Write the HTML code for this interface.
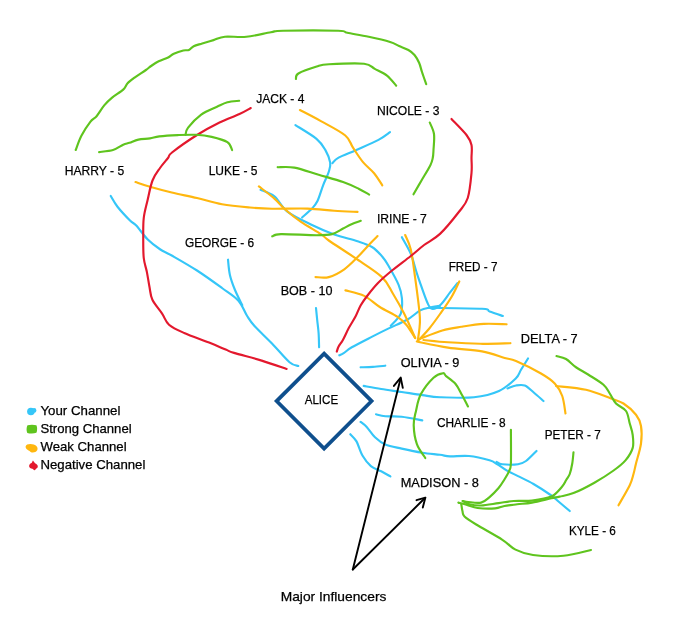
<!DOCTYPE html><html><head><meta charset="utf-8"><style>html,body{margin:0;padding:0;background:#fff;width:687px;height:632px;overflow:hidden}svg{display:block;will-change:transform}</style></head><body>
<svg width="687" height="632" viewBox="0 0 687 632">
<g fill="none" stroke-linecap="round" stroke-linejoin="round">
<path d="M110.75 196.00 C111.88 197.79 114.29 202.67 117.50 206.75 C120.71 210.83 126.88 217.38 130.00 220.50 C133.12 223.62 133.33 222.38 136.25 225.50 C139.17 228.62 143.54 235.29 147.50 239.25 C151.46 243.21 155.96 246.54 160.00 249.25 C164.04 251.96 165.58 251.96 171.75 255.50 C177.92 259.04 188.62 265.08 197.00 270.50 C205.38 275.92 215.12 283.00 222.00 288.00 C228.88 293.00 234.08 295.88 238.25 300.50 C242.42 305.12 244.29 311.50 247.00 315.75 C249.71 320.00 250.33 321.38 254.50 326.00 C258.67 330.62 266.17 337.46 272.00 343.50 C277.83 349.54 285.12 358.50 289.50 362.25 C293.88 366.00 296.79 365.38 298.25 366.00" stroke="#35c6f8" stroke-width="2.15"/>
<path d="M228.00 259.70 C228.32 262.23 228.73 269.85 229.90 274.90 C231.07 279.95 232.93 284.93 235.00 290.00 C237.07 295.07 241.08 302.75 242.30 305.30" stroke="#35c6f8" stroke-width="2.15"/>
<path d="M316.00 308.00 C316.20 310.00 316.77 315.83 317.20 320.00 C317.63 324.17 318.28 328.45 318.60 333.00 C318.92 337.55 319.02 344.92 319.10 347.30" stroke="#35c6f8" stroke-width="2.15"/>
<path d="M295.40 125.10 C298.92 127.38 311.52 134.67 316.50 138.80 C321.48 142.93 323.02 145.92 325.30 149.90 C327.58 153.88 329.63 159.02 330.20 162.70 C330.77 166.38 329.88 168.23 328.70 172.00 C327.52 175.77 324.95 180.50 323.10 185.30 C321.25 190.10 319.45 196.92 317.60 200.80 C315.75 204.68 314.58 205.82 312.00 208.60 C309.42 211.38 303.75 216.02 302.10 217.50" stroke="#35c6f8" stroke-width="2.15"/>
<path d="M390.00 132.20 C388.08 133.48 384.10 136.95 378.50 139.90 C372.90 142.85 363.05 146.95 356.40 149.90 C349.75 152.85 342.60 155.38 338.60 157.60 C334.60 159.82 333.43 162.27 332.40 163.20" stroke="#35c6f8" stroke-width="2.15"/>
<path d="M260.60 189.80 C262.90 190.90 269.88 192.72 274.40 196.40 C278.92 200.08 281.43 207.13 287.70 211.90 C293.97 216.67 304.25 221.23 312.00 225.00 C319.75 228.77 326.62 231.80 334.20 234.50 C341.78 237.20 351.20 239.12 357.50 241.20 C363.80 243.28 367.88 244.45 372.00 247.00 C376.12 249.55 379.43 253.33 382.20 256.50 C384.97 259.67 385.87 261.28 388.60 266.00 C391.33 270.72 396.38 279.45 398.60 284.80 C400.82 290.15 401.53 293.30 401.90 298.10 C402.27 302.90 402.65 308.98 400.80 313.60 C398.95 318.22 392.47 323.77 390.80 325.80" stroke="#35c6f8" stroke-width="2.15"/>
<path d="M401.90 237.20 C403.38 239.97 408.40 248.08 410.80 253.80 C413.20 259.52 414.83 266.90 416.30 271.50 C417.77 276.10 417.78 276.28 419.60 281.40 C421.42 286.52 425.15 297.63 427.20 302.20 C429.25 306.77 429.70 308.33 431.90 308.80 C434.10 309.27 437.40 307.68 440.40 305.00 C443.40 302.32 447.07 296.33 449.90 292.70 C452.73 289.07 456.15 284.78 457.40 283.20" stroke="#35c6f8" stroke-width="2.15"/>
<path d="M429.10 307.80 C437.92 307.97 471.92 308.17 482.00 308.80 C492.08 309.43 486.12 310.40 489.60 311.60 C493.08 312.80 500.68 315.27 502.90 316.00" stroke="#35c6f8" stroke-width="2.15"/>
<path d="M339.30 355.30 C340.03 354.93 341.62 354.43 343.70 353.10 C345.78 351.77 347.05 350.05 351.80 347.30 C356.55 344.55 366.13 339.72 372.20 336.60 C378.27 333.48 382.38 331.40 388.20 328.60 C394.02 325.80 401.77 322.83 407.10 319.80 C412.43 316.77 416.38 312.45 420.20 310.40 C424.02 308.35 426.70 308.25 430.00 307.50 C433.30 306.75 438.33 306.17 440.00 305.90" stroke="#35c6f8" stroke-width="2.15"/>
<path d="M360.60 367.30 C362.65 367.23 368.78 367.17 372.90 366.90 C377.02 366.63 383.23 365.90 385.30 365.70" stroke="#35c6f8" stroke-width="2.15"/>
<path d="M363.70 385.90 C366.62 386.42 374.87 387.98 381.20 389.00 C387.53 390.02 394.85 390.98 401.70 392.00 C408.55 393.02 415.92 394.23 422.30 395.10 C428.68 395.97 431.38 396.84 440.00 397.20 C448.62 397.56 464.17 398.28 474.00 397.25 C483.83 396.22 492.04 394.12 499.00 391.00 C505.96 387.88 512.08 382.04 515.75 378.50 C519.42 374.96 518.96 373.08 521.00 369.75 C523.04 366.42 526.83 360.38 528.00 358.50" stroke="#35c6f8" stroke-width="2.15"/>
<path d="M376.00 414.30 C377.55 414.63 381.02 415.90 385.30 416.30 C389.58 416.70 395.53 416.02 401.70 416.70 C407.87 417.38 418.87 419.78 422.30 420.40" stroke="#35c6f8" stroke-width="2.15"/>
<path d="M360.60 421.90 C361.62 422.75 364.30 424.43 366.70 427.00 C369.10 429.57 371.90 434.38 375.00 437.30 C378.10 440.22 380.85 442.62 385.30 444.50 C389.75 446.38 395.53 447.23 401.70 448.60 C407.87 449.97 415.92 451.67 422.30 452.70 C428.68 453.73 435.38 454.18 440.00 454.80 C444.62 455.42 445.17 456.20 450.00 456.40 C454.83 456.60 462.42 455.35 469.00 456.00 C475.58 456.65 484.77 458.92 489.50 460.30 C494.23 461.68 494.48 462.58 497.40 464.30 C500.32 466.02 503.57 468.63 507.00 470.60 C510.43 472.57 513.58 473.87 518.00 476.10 C522.42 478.33 528.00 480.81 533.50 484.00 C539.00 487.19 546.83 492.33 551.00 495.25 C555.17 498.17 555.38 498.88 558.50 501.50 C561.62 504.12 567.88 509.42 569.75 511.00" stroke="#35c6f8" stroke-width="2.15"/>
<path d="M350.30 434.20 C351.33 435.40 354.45 437.80 356.50 441.40 C358.55 445.00 360.20 451.68 362.60 455.80 C365.00 459.92 367.80 463.52 370.90 466.10 C374.00 468.68 377.95 469.58 381.20 471.30 C384.45 473.02 388.87 475.55 390.40 476.40" stroke="#35c6f8" stroke-width="2.15"/>
<path d="M496.60 461.90 C497.53 462.30 498.63 463.90 502.20 464.30 C505.77 464.70 514.03 464.85 518.00 464.30 C521.97 463.75 522.92 463.22 526.00 461.00 C529.08 458.78 534.75 452.67 536.50 451.00" stroke="#35c6f8" stroke-width="2.15"/>
<path d="M507.50 388.50 C508.92 388.00 513.12 386.00 516.00 385.50 C518.88 385.00 521.83 384.38 524.75 385.50 C527.67 386.62 530.38 389.67 533.50 392.25 C536.62 394.83 541.83 399.54 543.50 401.00" stroke="#35c6f8" stroke-width="2.15"/>
<path d="M135.50 182.00 C137.92 182.79 143.96 185.00 150.00 186.75 C156.04 188.50 163.92 190.62 171.75 192.50 C179.58 194.38 188.62 196.04 197.00 198.00 C205.38 199.96 213.17 202.67 222.00 204.25 C230.83 205.83 241.67 206.75 250.00 207.50 C258.33 208.25 262.40 208.57 272.00 208.75 C281.60 208.93 297.23 208.26 307.60 208.60 C317.97 208.94 325.88 210.25 334.20 210.80 C342.52 211.35 353.62 211.72 357.50 211.90" stroke="#ffb70f" stroke-width="2.15"/>
<path d="M299.90 110.00 C303.40 111.85 313.33 116.85 320.90 121.10 C328.47 125.35 339.95 131.07 345.30 135.50 C350.65 139.93 350.05 143.27 353.00 147.70 C355.95 152.13 359.48 157.85 363.00 162.10 C366.52 166.35 370.88 169.33 374.10 173.20 C377.32 177.07 380.93 183.28 382.30 185.30" stroke="#ffb70f" stroke-width="2.15"/>
<path d="M258.90 186.40 C261.48 188.43 269.97 194.72 274.40 198.60 C278.83 202.48 281.07 205.82 285.50 209.70 C289.93 213.58 295.10 217.83 301.00 221.90 C306.90 225.97 316.27 231.00 320.90 234.10 C325.53 237.20 323.05 236.48 328.80 240.50 C334.55 244.52 346.53 252.10 355.40 258.20 C364.27 264.30 375.73 271.18 382.00 277.10 C388.27 283.02 389.32 287.62 393.00 293.70 C396.68 299.78 400.40 306.22 404.10 313.60 C407.80 320.98 413.35 333.93 415.20 338.00" stroke="#ffb70f" stroke-width="2.15"/>
<path d="M315.50 277.10 C317.72 277.10 324.00 278.40 328.80 277.10 C333.60 275.80 339.50 272.63 344.30 269.30 C349.10 265.97 353.17 261.53 357.60 257.10 C362.03 252.67 367.58 246.20 370.90 242.70 C374.22 239.20 376.40 237.20 377.50 236.10" stroke="#ffb70f" stroke-width="2.15"/>
<path d="M345.40 290.40 C348.53 291.32 358.47 293.13 364.20 295.90 C369.93 298.67 374.25 303.50 379.80 307.00 C385.35 310.50 393.08 313.95 397.50 316.90 C401.92 319.85 403.35 321.18 406.30 324.70 C409.25 328.22 413.72 335.78 415.20 338.00" stroke="#ffb70f" stroke-width="2.15"/>
<path d="M405.20 235.00 C406.13 237.40 409.13 242.20 410.80 249.40 C412.47 256.60 413.73 267.50 415.20 278.20 C416.67 288.90 418.87 305.50 419.60 313.60 C420.33 321.70 419.92 322.23 419.60 326.80 C419.28 331.37 418.02 338.63 417.70 341.00" stroke="#ffb70f" stroke-width="2.15"/>
<path d="M459.30 281.40 C458.05 283.92 454.95 291.15 451.80 296.50 C448.65 301.85 444.18 308.13 440.40 313.50 C436.62 318.87 432.72 324.28 429.10 328.70 C425.48 333.12 420.43 338.12 418.70 340.00" stroke="#ffb70f" stroke-width="2.15"/>
<path d="M419.60 339.00 C423.38 337.58 435.37 332.53 442.30 330.50 C449.23 328.47 454.27 327.90 461.20 326.80 C468.13 325.70 476.33 324.32 483.90 323.90 C491.47 323.48 502.82 324.23 506.60 324.30" stroke="#ffb70f" stroke-width="2.15"/>
<path d="M423.40 340.00 C427.50 340.38 438.55 341.67 448.00 342.30 C457.45 342.93 469.70 343.65 480.10 343.80 C490.50 343.95 505.35 343.30 510.40 343.20" stroke="#ffb70f" stroke-width="2.15"/>
<path d="M416.80 341.50 C422.00 342.52 437.13 345.95 448.00 347.60 C458.87 349.25 472.55 349.67 482.00 351.40 C491.45 353.13 499.03 356.40 504.70 358.00 C510.37 359.60 509.95 358.42 516.00 361.00 C522.05 363.58 534.54 369.75 541.00 373.50 C547.46 377.25 551.21 379.75 554.75 383.50 C558.29 387.25 560.46 391.00 562.25 396.00 C564.04 401.00 564.96 410.58 565.50 413.50" stroke="#ffb70f" stroke-width="2.15"/>
<path d="M556.00 386.00 C561.00 386.62 576.83 387.67 586.00 389.75 C595.17 391.83 604.75 396.21 611.00 398.50 C617.25 400.79 619.33 400.79 623.50 403.50 C627.67 406.21 633.08 411.00 636.00 414.75 C638.92 418.50 640.17 421.21 641.00 426.00 C641.83 430.79 641.83 437.25 641.00 443.50 C640.17 449.75 637.25 458.42 636.00 463.50 C634.75 468.58 634.54 470.38 633.50 474.00 C632.46 477.62 632.25 480.04 629.75 485.25 C627.25 490.46 620.38 501.92 618.50 505.25" stroke="#ffb70f" stroke-width="2.15"/>
<path d="M250.75 108.00 C248.88 109.00 244.71 111.58 239.50 114.00 C234.29 116.42 226.58 119.00 219.50 122.50 C212.42 126.00 204.92 130.00 197.00 135.00 C189.08 140.00 176.83 148.67 172.00 152.50 C167.17 156.33 170.00 155.42 168.00 158.00 C166.00 160.58 162.58 164.25 160.00 168.00 C157.42 171.75 154.58 175.08 152.50 180.50 C150.42 185.92 148.96 194.25 147.50 200.50 C146.04 206.75 144.46 211.75 143.75 218.00 C143.04 224.25 143.25 231.33 143.25 238.00 C143.25 244.67 143.14 252.32 143.75 258.00 C144.36 263.68 145.94 267.27 146.90 272.10 C147.86 276.93 148.58 282.38 149.50 287.00 C150.42 291.62 150.30 295.37 152.40 299.80 C154.50 304.23 159.33 309.45 162.10 313.60 C164.87 317.75 165.32 321.47 169.00 324.70 C172.68 327.93 177.52 330.02 184.20 333.00 C190.88 335.98 202.18 339.83 209.10 342.60 C216.02 345.37 221.55 347.88 225.70 349.60 C229.85 351.32 228.00 351.07 234.00 352.90 C240.00 354.73 252.93 357.93 261.70 360.60 C270.47 363.27 282.45 367.52 286.60 368.90" stroke="#e3182d" stroke-width="2.15"/>
<path d="M451.50 119.00 C454.00 121.67 463.17 130.67 466.50 135.00 C469.83 139.33 470.67 141.17 471.50 145.00 C472.33 148.83 471.50 153.33 471.50 158.00 C471.50 162.67 472.12 166.33 471.50 173.00 C470.88 179.67 469.83 191.54 467.75 198.00 C465.67 204.46 463.62 205.77 459.00 211.75 C454.38 217.73 445.82 228.36 440.00 233.90 C434.18 239.44 428.97 241.32 424.10 245.00 C419.23 248.68 416.35 251.58 410.80 256.00 C405.25 260.42 396.27 267.00 390.80 271.50 C385.33 276.00 381.88 279.00 378.00 283.00 C374.12 287.00 370.40 291.75 367.50 295.50 C364.60 299.25 362.60 302.00 360.60 305.50 C358.60 309.00 357.45 312.78 355.50 316.50 C353.55 320.22 351.00 323.88 348.90 327.80 C346.80 331.72 344.62 336.88 342.90 340.00 C341.18 343.12 339.62 344.57 338.60 346.50 C337.58 348.43 337.10 350.75 336.80 351.60" stroke="#e3182d" stroke-width="2.15"/>
<path d="M75.70 150.00 C76.65 147.63 78.97 140.48 81.40 135.80 C83.83 131.12 87.77 125.17 90.30 121.90 C92.83 118.63 94.28 118.95 96.60 116.20 C98.92 113.45 101.67 108.47 104.20 105.40 C106.73 102.33 108.63 100.43 111.80 97.80 C114.97 95.17 120.57 92.02 123.20 89.60 C125.83 87.18 125.70 85.30 127.60 83.30 C129.50 81.30 131.55 79.82 134.60 77.60 C137.65 75.38 143.15 71.93 145.90 70.00 C148.65 68.07 148.97 67.45 151.10 66.00 C153.23 64.55 155.87 62.72 158.70 61.30 C161.53 59.88 165.58 58.75 168.10 57.50 C170.62 56.25 171.27 54.97 173.80 53.80 C176.33 52.63 180.78 51.13 183.30 50.50 C185.82 49.87 187.17 50.72 188.90 50.00 C190.63 49.28 191.48 47.28 193.70 46.20 C195.92 45.12 198.90 44.52 202.20 43.50 C205.50 42.48 209.72 41.23 213.50 40.10 C217.28 38.97 219.42 37.25 224.90 36.70 C230.38 36.15 238.73 37.55 246.40 36.80 C254.07 36.05 264.78 33.22 270.90 32.20 C277.02 31.18 271.90 30.95 283.10 30.70 C294.30 30.45 327.40 30.35 338.10 30.70 C348.80 31.05 342.20 31.78 347.30 32.80 C352.40 33.82 361.57 35.27 368.70 36.80 C375.83 38.33 385.05 40.47 390.10 42.00 C395.15 43.53 395.95 44.67 399.00 46.00 C402.05 47.33 405.82 48.50 408.40 50.00 C410.98 51.50 412.72 52.87 414.50 55.00 C416.28 57.13 417.85 59.97 419.10 62.80 C420.35 65.63 420.82 68.43 422.00 72.00 C423.18 75.57 425.50 82.17 426.20 84.20" stroke="#5fc41e" stroke-width="2.15"/>
<path d="M295.90 79.00 C296.32 78.08 294.93 75.58 298.40 73.50 C301.87 71.42 311.60 68.03 316.70 66.50 C321.80 64.97 321.10 64.77 329.00 64.30 C336.90 63.83 356.47 62.93 364.10 63.70 C371.73 64.47 370.98 66.92 374.80 68.90 C378.62 70.88 383.43 72.80 387.00 75.60 C390.57 78.40 394.67 84.02 396.20 85.70" stroke="#5fc41e" stroke-width="2.15"/>
<path d="M99.10 152.10 C101.42 151.75 108.98 151.23 113.00 150.00 C117.02 148.77 120.45 145.90 123.20 144.70 C125.95 143.50 126.97 143.65 129.50 142.80 C132.03 141.95 134.98 140.33 138.40 139.60 C141.82 138.87 146.52 138.93 150.00 138.40 C153.48 137.87 154.68 136.95 159.30 136.40 C163.92 135.85 171.58 135.37 177.70 135.10 C183.82 134.83 190.33 134.50 196.00 134.80 C201.67 135.10 206.47 135.67 211.70 136.90 C216.93 138.13 224.00 140.02 227.40 142.20 C230.80 144.38 231.32 148.70 232.10 150.00" stroke="#5fc41e" stroke-width="2.15"/>
<path d="M185.50 134.80 C185.93 133.62 185.48 131.07 188.10 127.70 C190.72 124.33 196.38 118.08 201.20 114.60 C206.02 111.12 212.63 108.85 217.00 106.80 C221.37 104.75 223.70 103.30 227.40 102.30 C231.10 101.30 237.23 101.05 239.20 100.80" stroke="#5fc41e" stroke-width="2.15"/>
<path d="M429.75 122.50 C430.46 124.42 433.38 129.42 434.00 134.00 C434.62 138.58 433.71 146.00 433.50 150.00 C433.29 154.00 433.29 155.42 432.75 158.00 C432.21 160.58 432.12 161.75 430.25 165.50 C428.38 169.25 424.29 175.71 421.50 180.50 C418.71 185.29 414.83 191.96 413.50 194.25" stroke="#5fc41e" stroke-width="2.15"/>
<path d="M277.70 167.20 C280.47 167.27 287.47 166.35 294.30 167.60 C301.13 168.85 310.57 172.30 318.70 174.70 C326.83 177.10 336.45 179.67 343.10 182.00 C349.75 184.33 354.25 186.60 358.60 188.70 C362.95 190.80 367.43 193.62 369.20 194.60" stroke="#5fc41e" stroke-width="2.15"/>
<path d="M272.20 236.30 C273.67 235.93 273.62 234.28 281.00 234.10 C288.38 233.92 308.00 235.20 316.50 235.20 C325.00 235.20 327.57 235.22 332.00 234.10 C336.43 232.98 339.85 230.14 343.10 228.50 C346.35 226.86 348.55 225.53 351.50 224.25 C354.45 222.97 359.25 221.38 360.80 220.80" stroke="#5fc41e" stroke-width="2.15"/>
<path d="M425.30 458.00 C423.90 455.68 418.83 449.58 416.90 444.10 C414.97 438.62 413.85 430.63 413.70 425.10 C413.55 419.57 414.82 416.03 416.00 410.90 C417.18 405.77 417.88 399.83 420.80 394.30 C423.72 388.77 429.80 381.22 433.50 377.70 C437.20 374.18 440.90 373.47 443.00 373.20 C445.10 372.93 444.00 374.30 446.10 376.10 C448.20 377.90 452.95 380.83 455.60 384.00 C458.25 387.17 459.93 391.35 462.00 395.10 C464.07 398.85 467.00 404.60 468.00 406.50" stroke="#5fc41e" stroke-width="2.15"/>
<path d="M556.50 356.00 C558.08 356.50 562.75 357.12 566.00 359.00 C569.25 360.88 572.25 364.62 576.00 367.25 C579.75 369.88 583.92 371.83 588.50 374.75 C593.08 377.67 599.96 381.62 603.50 384.75 C607.04 387.88 607.67 390.38 609.75 393.50 C611.83 396.62 613.29 400.58 616.00 403.50 C618.71 406.42 623.71 407.67 626.00 411.00 C628.29 414.33 628.63 419.50 629.75 423.50 C630.87 427.50 632.21 430.93 632.70 435.00 C633.19 439.07 633.87 443.72 632.70 447.90 C631.53 452.08 628.88 456.33 625.70 460.10 C622.52 463.87 618.82 466.73 613.60 470.50 C608.38 474.27 601.08 478.93 594.40 482.70 C587.72 486.47 579.30 490.78 573.50 493.10 C567.70 495.42 563.30 495.73 559.60 496.60 C555.90 497.47 555.90 497.30 551.30 498.30 C546.70 499.30 537.68 501.60 532.00 502.60 C526.32 503.60 521.80 503.73 517.20 504.30 C512.60 504.87 508.08 505.32 504.40 506.00 C500.72 506.68 499.57 508.07 495.10 508.40 C490.63 508.73 482.27 508.58 477.60 508.00 C472.93 507.42 470.30 505.80 467.10 504.90 C463.90 504.00 459.85 502.98 458.40 502.60" stroke="#5fc41e" stroke-width="2.15"/>
<path d="M573.50 452.25 C573.29 454.12 572.88 459.88 572.25 463.50 C571.62 467.12 570.76 471.25 569.75 474.00 C568.74 476.75 567.53 477.83 566.20 480.00 C564.88 482.17 564.28 484.23 561.80 487.00 C559.32 489.77 556.27 494.33 551.30 496.60 C546.33 498.87 538.27 499.87 532.00 500.60 C525.73 501.33 519.27 500.58 513.70 501.00 C508.13 501.42 504.03 502.35 498.60 503.10 C493.17 503.85 485.95 505.30 481.10 505.50 C476.25 505.70 472.60 505.05 469.50 504.30 C466.40 503.55 463.67 501.55 462.50 501.00" stroke="#5fc41e" stroke-width="2.15"/>
<path d="M510.90 429.80 C510.90 435.28 511.17 455.90 510.90 462.70 C510.63 469.50 510.43 467.72 509.30 470.60 C508.17 473.48 505.88 477.10 504.10 480.00 C502.32 482.90 501.07 485.12 498.60 488.00 C496.13 490.88 492.22 494.87 489.30 497.30 C486.38 499.73 484.60 501.82 481.10 502.60 C477.60 503.38 471.30 502.27 468.30 502.00 C465.30 501.73 463.97 501.17 463.10 501.00" stroke="#5fc41e" stroke-width="2.15"/>
<path d="M461.30 504.30 C461.50 505.47 461.97 509.27 462.50 511.30 C463.03 513.33 462.22 514.30 464.50 516.50 C466.78 518.70 469.88 520.62 476.20 524.50 C482.52 528.38 495.85 535.62 502.40 539.80 C508.95 543.98 510.40 547.07 515.50 549.60 C520.60 552.13 525.00 553.98 533.00 555.00 C541.00 556.02 553.83 556.53 563.50 555.70 C573.17 554.87 586.42 550.95 591.00 550.00" stroke="#5fc41e" stroke-width="2.15"/>
</g>
<path d="M324.1 353.6 L371.6 401.1 L324.1 448.6 L276.6 401.1 Z" fill="none" stroke="#0f4f8d" stroke-width="3.7" stroke-linejoin="miter"/>
<g fill="none" stroke="#000" stroke-width="1.9" stroke-linecap="round" stroke-linejoin="round">
<path d="M352.8 569.5 L400.6 378.5"/><path d="M393.9 385.9 L400.7 377.6 L402.8 387.9"/>
<path d="M352.8 569.5 L425.2 497.8"/><path d="M416.5 500.2 L425.4 497.6 L422.8 507.6"/>
</g>
<circle cx="30.9" cy="411.5" r="3.8" fill="#35c6f8"/><circle cx="34.1" cy="410.4" r="2.3" fill="#35c6f8"/>
<path d="M27.5 425.2 C30 424.6 34 424.5 36.3 425.3 C37.4 426.5 37.3 431 36.4 432.8 C34 433.8 30 433.8 27.3 433 C26.3 431 26.3 427 27.5 425.2 Z" fill="#5fc41e"/>
<path d="M25.6 446.5 C25.8 443.8 30.5 443.4 33.8 444.4 C37 445.3 38.3 448 37.2 450.3 C35.8 452.8 31.2 453.3 29.8 451.2 C28.5 450 25.5 449.5 25.6 446.5 Z" fill="#ffb70f"/>
<path d="M33 460.4 C34 461.5 34.5 463 36 463.8 C37.2 464.5 38.3 466 37.6 467.5 C37 468.5 35.8 468.6 35.5 469.5 C35 470.6 33.8 470.5 33.2 469.2 C32.5 468.3 30 468.8 29.3 467 C28.6 465.2 30 463.6 31.5 463 C32.3 462.5 32.3 461 33 460.4 Z" fill="#e3182d"/>
<text x="256.20" y="103.00" font-family="Liberation Sans, sans-serif" font-size="13.00" fill="#000" stroke="#000" stroke-width="0.25" textLength="48.20" lengthAdjust="spacingAndGlyphs">JACK - 4</text>
<text x="376.95" y="115.00" font-family="Liberation Sans, sans-serif" font-size="13.00" fill="#000" stroke="#000" stroke-width="0.25" textLength="62.45" lengthAdjust="spacingAndGlyphs">NICOLE - 3</text>
<text x="64.70" y="175.00" font-family="Liberation Sans, sans-serif" font-size="13.00" fill="#000" stroke="#000" stroke-width="0.25" textLength="59.45" lengthAdjust="spacingAndGlyphs">HARRY - 5</text>
<text x="208.70" y="175.00" font-family="Liberation Sans, sans-serif" font-size="13.00" fill="#000" stroke="#000" stroke-width="0.25" textLength="48.70" lengthAdjust="spacingAndGlyphs">LUKE - 5</text>
<text x="376.95" y="223.00" font-family="Liberation Sans, sans-serif" font-size="13.00" fill="#000" stroke="#000" stroke-width="0.25" textLength="49.95" lengthAdjust="spacingAndGlyphs">IRINE - 7</text>
<text x="184.95" y="246.75" font-family="Liberation Sans, sans-serif" font-size="13.00" fill="#000" stroke="#000" stroke-width="0.25" textLength="69.20" lengthAdjust="spacingAndGlyphs">GEORGE - 6</text>
<text x="448.70" y="271.00" font-family="Liberation Sans, sans-serif" font-size="13.00" fill="#000" stroke="#000" stroke-width="0.25" textLength="48.70" lengthAdjust="spacingAndGlyphs">FRED - 7</text>
<text x="280.70" y="295.00" font-family="Liberation Sans, sans-serif" font-size="13.00" fill="#000" stroke="#000" stroke-width="0.25" textLength="51.70" lengthAdjust="spacingAndGlyphs">BOB - 10</text>
<text x="520.70" y="343.00" font-family="Liberation Sans, sans-serif" font-size="13.00" fill="#000" stroke="#000" stroke-width="0.25" textLength="56.95" lengthAdjust="spacingAndGlyphs">DELTA - 7</text>
<text x="400.70" y="367.25" font-family="Liberation Sans, sans-serif" font-size="13.00" fill="#000" stroke="#000" stroke-width="0.25" textLength="58.70" lengthAdjust="spacingAndGlyphs">OLIVIA - 9</text>
<text x="304.70" y="404.00" font-family="Liberation Sans, sans-serif" font-size="13.00" fill="#000" stroke="#000" stroke-width="0.25" textLength="33.40" lengthAdjust="spacingAndGlyphs">ALICE</text>
<text x="436.95" y="426.75" font-family="Liberation Sans, sans-serif" font-size="13.00" fill="#000" stroke="#000" stroke-width="0.25" textLength="68.70" lengthAdjust="spacingAndGlyphs">CHARLIE - 8</text>
<text x="544.70" y="439.25" font-family="Liberation Sans, sans-serif" font-size="13.00" fill="#000" stroke="#000" stroke-width="0.25" textLength="55.95" lengthAdjust="spacingAndGlyphs">PETER - 7</text>
<text x="400.70" y="487.00" font-family="Liberation Sans, sans-serif" font-size="13.00" fill="#000" stroke="#000" stroke-width="0.25" textLength="78.20" lengthAdjust="spacingAndGlyphs">MADISON - 8</text>
<text x="568.95" y="535.25" font-family="Liberation Sans, sans-serif" font-size="13.00" fill="#000" stroke="#000" stroke-width="0.25" textLength="46.95" lengthAdjust="spacingAndGlyphs">KYLE - 6</text>
<text x="280.70" y="601.00" font-family="Liberation Sans, sans-serif" font-size="13.00" fill="#000" stroke="#000" stroke-width="0.25" textLength="105.70" lengthAdjust="spacingAndGlyphs">Major Influencers</text>
<text x="40.45" y="414.75" font-family="Liberation Sans, sans-serif" font-size="13.00" fill="#000" stroke="#000" stroke-width="0.25" textLength="79.95" lengthAdjust="spacingAndGlyphs">Your Channel</text>
<text x="40.45" y="432.75" font-family="Liberation Sans, sans-serif" font-size="13.00" fill="#000" stroke="#000" stroke-width="0.25" textLength="91.20" lengthAdjust="spacingAndGlyphs">Strong Channel</text>
<text x="40.45" y="450.75" font-family="Liberation Sans, sans-serif" font-size="13.00" fill="#000" stroke="#000" stroke-width="0.25" textLength="86.20" lengthAdjust="spacingAndGlyphs">Weak Channel</text>
<text x="40.45" y="468.75" font-family="Liberation Sans, sans-serif" font-size="13.00" fill="#000" stroke="#000" stroke-width="0.25" textLength="104.95" lengthAdjust="spacingAndGlyphs">Negative Channel</text>
</svg></body></html>
